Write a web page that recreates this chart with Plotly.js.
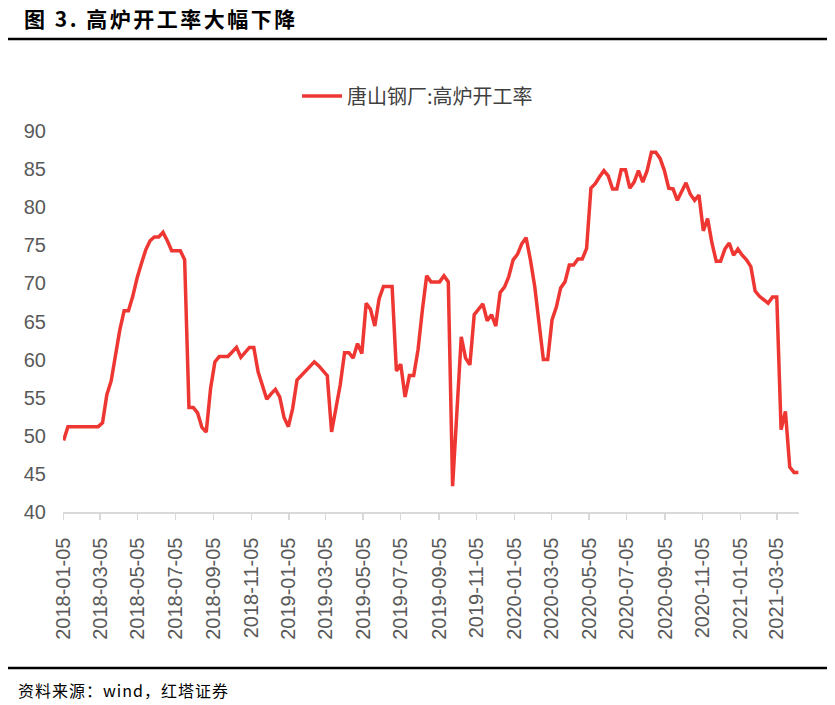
<!DOCTYPE html>
<html>
<head>
<meta charset="utf-8">
<script src="https://cdn.plot.ly/plotly-3.0.1.min.js"></script>
<style>
html,body{margin:0;padding:0;background:#fff;}
#chart{width:835px;height:705px;}
#chart .gtitle{letter-spacing:2.5px;}
#chart .annotation-text{letter-spacing:1px;}
</style>
</head>
<body>
<div id="chart"></div>
<script>
// Weekly dates (Fridays)
const dates = [
'2018-01-05','2018-01-12','2018-01-19','2018-01-26','2018-02-02','2018-02-09','2018-02-16','2018-02-23',
'2018-03-02','2018-03-09','2018-03-16','2018-03-23','2018-03-30','2018-04-06','2018-04-13','2018-04-20','2018-04-27',
'2018-05-04','2018-05-11','2018-05-18','2018-05-25','2018-06-01','2018-06-08','2018-06-15','2018-06-22','2018-06-29',
'2018-07-06','2018-07-13','2018-07-20','2018-07-27','2018-08-03','2018-08-10','2018-08-17','2018-08-24','2018-08-31',
'2018-09-07','2018-09-14','2018-09-21','2018-09-28','2018-10-05','2018-10-12','2018-10-19','2018-10-26',
'2018-11-02','2018-11-09','2018-11-16','2018-11-23','2018-11-30','2018-12-07','2018-12-14','2018-12-21','2018-12-28',
'2019-01-04','2019-01-11','2019-01-18','2019-01-25','2019-02-01','2019-02-08','2019-02-15','2019-02-22',
'2019-03-01','2019-03-08','2019-03-15','2019-03-22','2019-03-29','2019-04-05','2019-04-12','2019-04-19','2019-04-26',
'2019-05-03','2019-05-10','2019-05-17','2019-05-24','2019-05-31','2019-06-07','2019-06-14','2019-06-21','2019-06-28',
'2019-07-05','2019-07-12','2019-07-19','2019-07-26','2019-08-02','2019-08-09','2019-08-16','2019-08-23','2019-08-30',
'2019-09-06','2019-09-13','2019-09-20','2019-09-27','2019-10-04','2019-10-11','2019-10-18','2019-10-25',
'2019-11-01','2019-11-08','2019-11-15','2019-11-22','2019-11-29','2019-12-06','2019-12-13','2019-12-20','2019-12-27',
'2020-01-03','2020-01-10','2020-01-17','2020-01-24','2020-01-31','2020-02-07','2020-02-14','2020-02-21','2020-02-28',
'2020-03-06','2020-03-13','2020-03-20','2020-03-27','2020-04-03','2020-04-10','2020-04-17','2020-04-24',
'2020-05-01','2020-05-08','2020-05-15','2020-05-22','2020-05-29','2020-06-05','2020-06-12','2020-06-19','2020-06-26',
'2020-07-03','2020-07-10','2020-07-17','2020-07-24','2020-07-31','2020-08-07','2020-08-14','2020-08-21','2020-08-28',
'2020-09-04','2020-09-11','2020-09-18','2020-09-25','2020-10-02','2020-10-09','2020-10-16','2020-10-23','2020-10-30',
'2020-11-06','2020-11-13','2020-11-20','2020-11-27','2020-12-04','2020-12-11','2020-12-18','2020-12-25',
'2021-01-01','2021-01-08','2021-01-15','2021-01-22','2021-01-29','2021-02-05','2021-02-12','2021-02-19','2021-02-26',
'2021-03-05','2021-03-12','2021-03-19','2021-03-26','2021-04-02','2021-04-09'
];

// 唐山钢厂:高炉开工率 (%)
const rate = [
49.4,51.2,51.2,51.2,51.2,51.2,51.2,51.2,
51.2,51.7,55.4,57.2,60.8,63.9,66.4,66.4,68.3,
70.7,72.6,74.4,75.6,76.1,76.1,76.7,75.6,74.3,
74.3,74.3,73.1,53.7,53.7,53.0,51.1,50.5,56.2,
59.7,60.4,60.4,60.4,61.0,61.6,60.3,61.0,
61.6,61.6,58.4,56.6,54.8,55.5,56.1,55.1,52.4,
51.2,53.6,57.3,57.9,58.5,59.0,59.7,59.2,
58.5,57.9,50.5,53.6,56.7,60.9,60.9,60.2,62.1,
60.8,67.4,66.6,64.4,68.0,69.6,69.6,69.6,58.5,
59.4,55.1,57.9,57.9,61.3,66.5,71.0,70.2,70.2,
70.2,71.0,70.2,43.4,53.4,63.0,60.2,59.3,
65.9,66.6,67.3,65.1,65.9,64.4,68.8,69.5,70.9,
73.1,73.8,75.2,76.0,73.1,69.6,64.8,60.0,60.0,
65.2,66.9,69.4,70.2,72.4,72.4,73.2,73.2,
74.6,82.5,83.1,84.0,84.8,84.1,82.4,82.4,84.9,
84.9,82.5,83.3,84.8,83.3,84.8,87.2,87.2,86.4,
84.8,82.5,82.4,80.9,82.0,83.2,81.7,80.9,81.6,
76.9,78.5,75.3,72.9,72.9,74.5,75.3,73.7,
74.5,73.7,73.1,72.2,69.0,68.3,67.9,67.4,68.2,
68.2,50.8,53.2,45.9,45.2,45.2
];

const tickDates = [
'2018-01-05','2018-03-05','2018-05-05','2018-07-05','2018-09-05','2018-11-05',
'2019-01-05','2019-03-05','2019-05-05','2019-07-05','2019-09-05','2019-11-05',
'2020-01-05','2020-03-05','2020-05-05','2020-07-05','2020-09-05','2020-11-05',
'2021-01-05','2021-03-05'
];
const yTicks = [40,45,50,55,60,65,70,75,80,85,90];

const seriesName = '唐山钢厂:高炉开工率';
const chartTitle = '图 3. 高炉开工率大幅下降';
const sourceText = '资料来源：wind，红塔证券';

const latin = 'Liberation Sans, Arial, Noto Sans CJK SC, sans-serif';
const cjk = 'Noto Sans CJK SC, Liberation Sans, sans-serif';

const trace = {
  type: 'scatter',
  mode: 'lines',
  x: dates,
  y: rate,
  name: seriesName,
  line: {color: '#EE3732', width: 3.5},
  showlegend: true
};

const layout = {
  width: 835,
  height: 705,
  margin: {l: 63, r: 36, t: 131, b: 193},
  paper_bgcolor: '#ffffff',
  plot_bgcolor: '#ffffff',
  title: {
    text: chartTitle,
    font: {family: cjk, size: 21, color: '#000000', weight: 700},
    x: 24/835, xanchor: 'left', xref: 'container',
    y: 1 - 20/705, yanchor: 'middle', yref: 'container'
  },
  showlegend: true,
  legend: {
    orientation: 'h',
    x: 0.318, xanchor: 'left',
    y: 1.092, yanchor: 'middle',
    font: {family: cjk, size: 20, color: '#404040'},
    bgcolor: 'rgba(0,0,0,0)',
    itemwidth: 40
  },
  xaxis: {
    type: 'date',
    range: ['2018-01-04', '2021-04-10'],
    tickmode: 'array',
    tickvals: tickDates,
    ticktext: tickDates,
    tickangle: -90,
    tickfont: {family: latin, size: 20, color: '#595959'},
    showgrid: false,
    zeroline: false,
    showline: true,
    linecolor: '#D9D9D9',
    linewidth: 1.5,
    ticks: 'outside',
    ticklen: 6,
    tickcolor: '#D9D9D9',
    tickwidth: 1.5,
    ticklabelstandoff: 10
  },
  yaxis: {
    range: [40, 90],
    tickmode: 'array',
    tickvals: yTicks,
    ticktext: yTicks.map(String),
    tickfont: {family: latin, size: 20, color: '#595959'},
    showgrid: false,
    zeroline: false,
    showline: false,
    ticks: '',
    ticklabelstandoff: 16
  },
  shapes: [
    {type: 'line', xref: 'paper', yref: 'paper',
     x0: (8-63)/736, x1: (827-63)/736, y0: (512-39)/381, y1: (512-39)/381,
     line: {color: '#000000', width: 2.5}},
    {type: 'line', xref: 'paper', yref: 'paper',
     x0: (8-63)/736, x1: (827-63)/736, y0: (512-668)/381, y1: (512-668)/381,
     line: {color: '#000000', width: 2.5}}
  ],
  annotations: [
    {text: sourceText, xref: 'paper', yref: 'paper',
     x: (23-63)/736, y: (512-690)/381, xanchor: 'left', yanchor: 'middle',
     showarrow: false, font: {family: cjk, size: 16, color: '#000000'}}
  ]
};

Plotly.newPlot('chart', [trace], layout, {displayModeBar: false, staticPlot: true});
</script>
</body>
</html>
